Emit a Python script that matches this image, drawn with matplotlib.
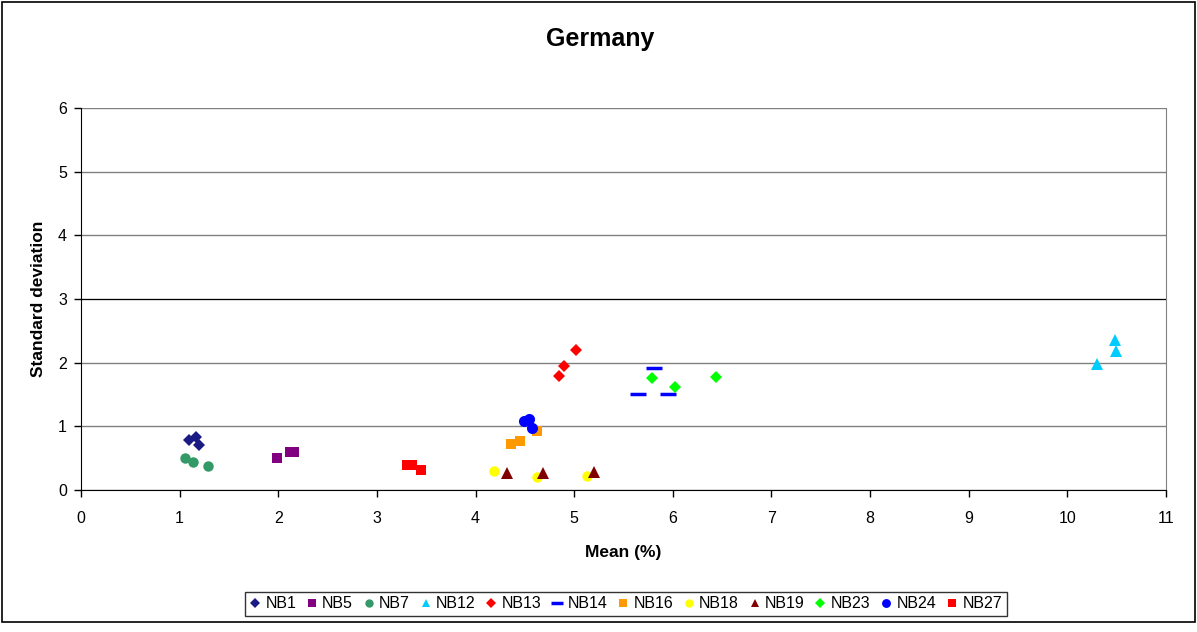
import matplotlib
matplotlib.use("Agg")
import matplotlib.pyplot as plt
from matplotlib.patches import Rectangle

plt.rcParams['font.family'] = ['Liberation Sans', 'DejaVu Sans']

series_names = ["NB1", "NB5", "NB7", "NB12", "NB13", "NB14", "NB16", "NB18", "NB19", "NB23", "NB24", "NB27"]

nb1_x = [1.09, 1.17, 1.20]
nb1_y = [0.78, 0.83, 0.70]
nb5_x = [1.99, 2.12, 2.16]
nb5_y = [0.51, 0.59, 0.59]
nb7_x = [1.05, 1.14, 1.29]
nb7_y = [0.51, 0.44, 0.37]
nb12_x = [10.30, 10.48, 10.49]
nb12_y = [1.98, 2.35, 2.18]
nb13_x = [4.85, 4.90, 5.02]
nb13_y = [1.79, 1.94, 2.20]
nb14_x = [5.65, 5.81, 5.95]
nb14_y = [1.51, 1.92, 1.51]
nb16_x = [4.36, 4.45, 4.62]
nb16_y = [0.72, 0.77, 0.93]
nb18_x = [4.19, 4.62, 5.13]
nb18_y = [0.30, 0.20, 0.22]
nb19_x = [4.32, 4.68, 5.20]
nb19_y = [0.26, 0.26, 0.28]
nb23_x = [5.79, 6.02, 6.44]
nb23_y = [1.76, 1.61, 1.78]
nb24_x = [4.49, 4.54, 4.57]
nb24_y = [1.08, 1.11, 0.97]
nb27_x = [3.31, 3.36, 3.45]
nb27_y = [0.40, 0.40, 0.32]

xs = [nb1_x, nb5_x, nb7_x, nb12_x, nb13_x, nb14_x, nb16_x, nb18_x, nb19_x, nb23_x, nb24_x, nb27_x]
ys = [nb1_y, nb5_y, nb7_y, nb12_y, nb13_y, nb14_y, nb16_y, nb18_y, nb19_y, nb23_y, nb24_y, nb27_y]

colors = ["#1a1a85", "#800080", "#339966", "#00CCFF", "#FF0000", "#0000FF",
          "#FF9900", "#FFFF00", "#800000", "#00FF00", "#0000FF", "#FF0000"]
markers = ["D", "s", "o", "^", "D", "_", "s", "o", "^", "D", "o", "s"]
sizes = [6.5, 7.5, 7.5, 8, 6.5, 11, 7.5, 7.5, 8, 6.5, 8, 7.5]

fig = plt.figure(figsize=(11.97, 6.32), dpi=100)
ax = fig.add_axes([81/1197, 1 - 490/632, (1166 - 81)/1197, (490 - 108)/632])

handles = []
for name, x, y, c, m, s in zip(series_names, xs, ys, colors, markers, sizes):
    mew = 2.5 if m == "_" else 0
    h, = ax.plot(x, y, linestyle="none", marker=m, color=c, markersize=s,
                 markeredgewidth=mew, markeredgecolor=c, label=name, zorder=3)
    handles.append(h)

ax.set_xlim(0, 11)
ax.set_ylim(0, 6)
ax.set_xticks(range(0, 12))
ax.set_yticks(range(0, 7))
ax.yaxis.grid(True, color="#808080", linewidth=1)
ax.axhline(3, color="black", linewidth=0.8, zorder=1)
ax.set_axisbelow(True)
ax.spines["top"].set_visible(False)
ax.spines["right"].set_color("#808080")
ax.spines["left"].set_color("black")
ax.spines["bottom"].set_color("black")
ax.tick_params(direction="out", length=5, width=1, labelsize=11.5)
ax.tick_params(axis="x", pad=10)
ax.tick_params(axis="y", pad=5)

ax.set_xlabel("Mean (%)", fontsize=12.5, fontweight="bold", labelpad=14)
ax.set_ylabel("Standard deviation", fontsize=12.5, fontweight="bold", labelpad=9)
fig.text(600/1197, 1 - 39/632, "Germany", ha="center", va="center", fontsize=18, fontweight="bold")

leg = fig.legend(handles=handles, loc="center", bbox_to_anchor=(626/1197, 1 - 604/632),
                 ncol=12, frameon=True, fontsize=11.5, handlelength=0.6, handletextpad=0.35,
                 columnspacing=0.68, borderpad=0.3, markerscale=0.8, fancybox=False)
leg.get_frame().set_edgecolor("black")
leg.get_frame().set_linewidth(1)

fig.patches.append(Rectangle((2/1197, 1 - 622/632), 1193/1197, 620/632, transform=fig.transFigure,
                             fill=False, edgecolor="black", linewidth=1.2))

fig.savefig("out.png", dpi=100)
